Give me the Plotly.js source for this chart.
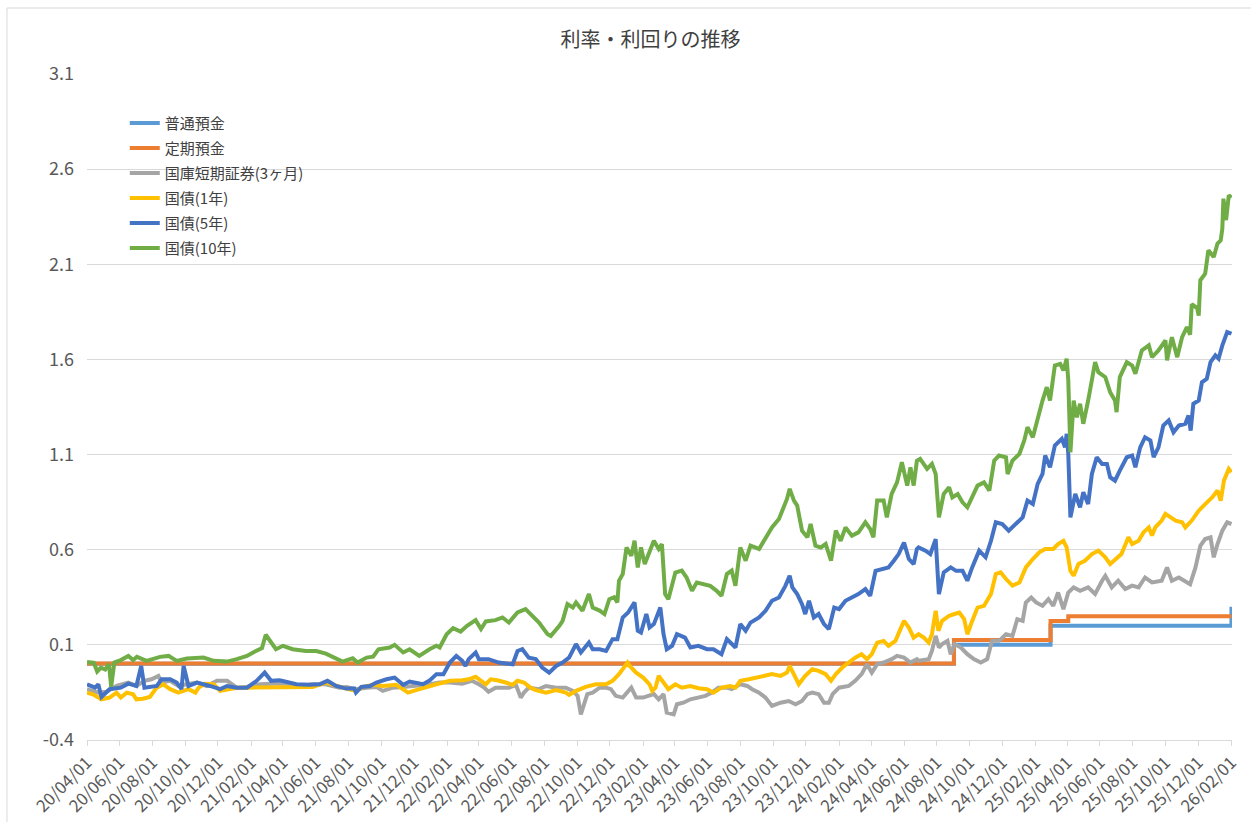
<!DOCTYPE html>
<html>
<head>
<meta charset="utf-8">
<script src="https://cdn.plot.ly/plotly-3.0.1.min.js"></script>
<style>
html,body{margin:0;padding:0;background:#fff;}
#chart{width:1251px;height:822px;}
</style>
</head>
<body>
<div id="chart"></div>
<script>
// ---- data ----
const chartTitle = '利率・利回りの推移';
const seriesNames = ['普通預金','定期預金','国庫短期証券(3ヶ月)','国債(1年)','国債(5年)','国債(10年)'];
const seriesColors = ['#5B9BD5','#ED7D31','#A5A5A5','#FFC000','#4472C4','#70AD47'];
const yTickVals = [-0.4,0.1,0.6,1.1,1.6,2.1,2.6,3.1];
const yTickLabels = ['-0.4','0.1','0.6','1.1','1.6','2.1','2.6','3.1'];

const ordinaryDates = ['2020-04-01','2024-09-02','2025-03-01','2026-01-31','2026-02-01'];
const ordinaryVals  = [0.001,0.1,0.2,0.2,0.3];

const timeDepDates = ['2020-04-01','2024-09-02','2025-03-01','2025-04-03','2026-02-01'];
const timeDepVals  = [0.002,0.125,0.225,0.25,0.25];

const tb3mDates = ['2020-04-01','2020-04-22','2020-05-07','2020-05-26','2020-06-17','2020-07-02','2020-07-17','2020-07-30','2020-08-12','2020-08-18','2020-09-03','2020-09-18','2020-10-04','2020-10-23','2020-11-10','2020-11-29','2020-12-18',
'2021-01-05','2021-01-24','2021-02-17','2021-03-13','2021-04-07','2021-05-01','2021-05-26','2021-06-20','2021-07-15','2021-07-28','2021-08-15','2021-09-04','2021-09-22','2021-10-04','2021-10-23','2021-11-11','2021-12-05','2021-12-31',
'2022-01-18','2022-02-06','2022-03-01','2022-03-19','2022-04-01','2022-04-11','2022-04-19','2022-05-02','2022-05-27','2022-06-09','2022-06-18','2022-06-24','2022-07-03','2022-07-22','2022-08-04','2022-08-23','2022-09-10','2022-09-23','2022-10-02','2022-10-08','2022-10-14','2022-10-20','2022-10-30','2022-11-12','2022-11-24','2022-12-03','2022-12-12','2022-12-25',
'2023-01-10','2023-01-19','2023-02-01','2023-02-21','2023-03-02','2023-03-11','2023-03-17','2023-03-30','2023-04-05','2023-04-17','2023-04-30','2023-05-15','2023-05-28','2023-06-09','2023-06-21','2023-07-07','2023-07-16','2023-08-01','2023-08-14','2023-08-23','2023-09-05','2023-09-17','2023-09-29','2023-10-15','2023-10-30','2023-11-12','2023-11-24','2023-12-04','2023-12-13','2023-12-25',
'2024-01-04','2024-01-13','2024-01-20','2024-02-01','2024-02-19','2024-03-02','2024-03-14','2024-03-24','2024-04-02','2024-04-12','2024-04-24','2024-05-09','2024-05-19','2024-06-01','2024-06-13','2024-06-25','2024-06-28','2024-07-17','2024-07-23','2024-07-30','2024-08-05','2024-08-11','2024-08-21','2024-08-27','2024-09-03','2024-09-15','2024-09-27','2024-10-09','2024-10-22','2024-11-03','2024-11-12','2024-11-25','2024-12-08','2024-12-20','2024-12-29',
'2025-01-08','2025-01-14','2025-01-24','2025-02-02','2025-02-14','2025-02-25','2025-03-06','2025-03-15','2025-03-25','2025-04-03','2025-04-13','2025-04-25','2025-05-10','2025-05-23','2025-06-05','2025-06-11','2025-06-23','2025-07-05','2025-07-18','2025-07-31','2025-08-12','2025-08-24','2025-09-06','2025-09-24','2025-10-04','2025-10-13','2025-10-26','2025-11-07','2025-11-16','2025-11-26','2025-12-05','2025-12-14','2025-12-24','2025-12-30',
'2026-01-06','2026-01-15','2026-01-24','2026-02-01'];
const tb3mVals = [-0.133,-0.151,-0.147,-0.116,-0.098,-0.116,-0.089,-0.081,-0.063,-0.098,-0.089,-0.116,-0.107,-0.098,-0.116,-0.089,-0.089,
-0.125,-0.121,-0.107,-0.104,-0.104,-0.116,-0.107,-0.107,-0.125,-0.121,-0.133,-0.125,-0.121,-0.142,-0.125,-0.121,-0.116,-0.107,
-0.098,-0.098,-0.104,-0.089,-0.107,-0.125,-0.146,-0.125,-0.125,-0.11,-0.177,-0.151,-0.125,-0.133,-0.116,-0.125,-0.125,-0.142,-0.168,-0.265,-0.212,-0.159,-0.151,-0.125,-0.125,-0.133,-0.168,-0.177,
-0.125,-0.177,-0.177,-0.159,-0.186,-0.159,-0.256,-0.265,-0.212,-0.204,-0.186,-0.177,-0.168,-0.151,-0.125,-0.125,-0.133,-0.107,-0.116,-0.133,-0.151,-0.177,-0.221,-0.204,-0.195,-0.212,-0.195,-0.159,-0.151,-0.159,
-0.204,-0.204,-0.159,-0.125,-0.116,-0.089,-0.054,-0.002,-0.046,-0.002,0.007,0.025,0.042,0.033,0.007,0.025,0.016,0.025,0.068,0.147,0.086,0.104,0.121,0.051,0.104,0.086,0.051,0.025,0.007,0.025,0.121,0.121,0.156,0.147,0.235,
0.226,0.323,0.349,0.323,0.305,0.34,0.305,0.375,0.288,0.375,0.402,0.384,0.402,0.367,0.437,0.463,0.402,0.437,0.393,0.411,0.402,0.454,0.428,0.437,0.507,0.437,0.454,0.437,0.419,0.507,0.621,0.656,0.665,0.56,
0.63,0.7,0.744,0.735];

const jgb1Dates = ['2020-04-01','2020-04-12','2020-04-28','2020-05-13','2020-05-26','2020-06-03','2020-06-14','2020-06-26','2020-07-02','2020-07-14','2020-07-27','2020-08-09','2020-08-21','2020-09-03','2020-09-18','2020-09-27','2020-10-07','2020-10-20','2020-10-26','2020-11-07','2020-11-23','2020-12-05','2020-12-18',
'2021-01-05','2021-01-24','2021-02-17','2021-03-13','2021-04-07','2021-05-01','2021-05-26','2021-06-20','2021-07-09','2021-07-28','2021-08-15','2021-08-28','2021-09-16','2021-10-04','2021-10-29','2021-11-11','2021-11-20','2021-12-05','2021-12-24',
'2022-01-12','2022-01-25','2022-02-06','2022-03-01','2022-03-13','2022-03-26','2022-04-05','2022-04-14','2022-04-23','2022-05-05','2022-05-21','2022-06-03','2022-06-12','2022-06-24','2022-07-06','2022-07-16','2022-08-04','2022-08-23','2022-09-10','2022-09-16','2022-09-29','2022-10-17','2022-11-05','2022-11-24','2022-12-06','2022-12-15','2022-12-18',
'2023-01-03','2023-01-07','2023-01-19','2023-02-01','2023-02-13','2023-02-18','2023-02-24','2023-03-02','2023-03-11','2023-03-20','2023-04-02','2023-04-14','2023-04-30','2023-05-15','2023-05-31','2023-06-12','2023-06-27','2023-07-13','2023-07-23','2023-08-01','2023-08-17','2023-09-02','2023-09-17','2023-09-29','2023-10-15','2023-10-27','2023-11-01','2023-11-09','2023-11-18','2023-11-30','2023-12-13','2023-12-25',
'2024-01-07','2024-01-17','2024-01-26','2024-02-07','2024-02-19','2024-03-02','2024-03-14','2024-03-24','2024-04-02','2024-04-12','2024-04-24','2024-05-03','2024-05-16','2024-05-25','2024-06-01','2024-06-10','2024-06-19','2024-06-28','2024-07-08','2024-07-17','2024-07-23','2024-07-30','2024-08-04','2024-08-11','2024-08-24','2024-09-03','2024-09-12','2024-09-21','2024-09-27','2024-10-06','2024-10-16','2024-10-28','2024-11-10','2024-11-19','2024-11-28','2024-12-08','2024-12-20',
'2025-01-02','2025-01-14','2025-01-27','2025-02-08','2025-02-19','2025-03-06','2025-03-15','2025-03-25','2025-03-31','2025-04-07','2025-04-13','2025-04-22','2025-05-04','2025-05-17','2025-05-29','2025-06-11','2025-06-20','2025-07-02','2025-07-11','2025-07-24','2025-07-31','2025-08-12','2025-08-21','2025-08-31','2025-09-06','2025-09-12','2025-09-24','2025-10-01','2025-10-10','2025-10-20','2025-11-01','2025-11-07','2025-11-19','2025-12-02','2025-12-14','2025-12-27',
'2026-01-06','2026-01-12','2026-01-18','2026-01-27','2026-02-01'];
const jgb1Vals = [-0.151,-0.16,-0.186,-0.177,-0.151,-0.177,-0.151,-0.16,-0.186,-0.183,-0.174,-0.125,-0.107,-0.133,-0.151,-0.142,-0.133,-0.151,-0.125,-0.104,-0.107,-0.142,-0.133,
-0.125,-0.125,-0.125,-0.125,-0.121,-0.125,-0.121,-0.098,-0.116,-0.13,-0.142,-0.121,-0.11,-0.116,-0.11,-0.133,-0.151,-0.138,-0.121,
-0.107,-0.098,-0.089,-0.086,-0.081,-0.068,-0.089,-0.107,-0.081,-0.086,-0.098,-0.11,-0.089,-0.098,-0.125,-0.138,-0.151,-0.138,-0.151,-0.163,-0.142,-0.121,-0.107,-0.107,-0.089,-0.063,-0.054,
0.007,-0.011,-0.046,-0.072,-0.107,-0.142,-0.125,-0.063,-0.098,-0.133,-0.107,-0.125,-0.116,-0.128,-0.133,-0.151,-0.125,-0.116,-0.125,-0.089,-0.081,-0.072,-0.063,-0.054,-0.063,-0.046,-0.011,-0.054,-0.107,-0.063,-0.028,-0.037,
-0.054,-0.089,-0.054,-0.019,0.007,0.033,0.051,0.025,0.051,0.112,0.121,0.095,0.121,0.174,0.226,0.191,0.138,0.156,0.138,0.112,0.156,0.279,0.174,0.226,0.253,0.262,0.27,0.235,0.156,0.226,0.296,0.305,0.367,0.472,0.481,0.446,0.411,
0.428,0.507,0.551,0.586,0.604,0.604,0.63,0.647,0.612,0.489,0.463,0.525,0.542,0.577,0.595,0.56,0.525,0.551,0.577,0.665,0.63,0.647,0.691,0.717,0.674,0.717,0.753,0.788,0.77,0.753,0.744,0.717,0.753,0.805,0.84,0.875,
0.911,0.858,0.963,1.025,1.007];

const jgb5Dates = ['2020-04-01','2020-04-16','2020-04-22','2020-04-28','2020-05-13','2020-06-03','2020-06-17','2020-07-02','2020-07-11','2020-07-17','2020-08-09','2020-08-18','2020-09-03','2020-09-15','2020-09-24','2020-09-28','2020-10-07','2020-10-23','2020-11-16','2020-12-05','2020-12-18',
'2021-01-05','2021-01-24','2021-02-11','2021-02-26','2021-03-10','2021-03-26','2021-04-07','2021-04-26','2021-05-20','2021-06-08','2021-06-23','2021-07-09','2021-07-28','2021-08-12','2021-08-15','2021-08-25','2021-09-10','2021-09-22','2021-10-11','2021-10-26','2021-11-11','2021-11-23','2021-12-18','2021-12-31',
'2022-01-12','2022-01-25','2022-02-06','2022-02-18','2022-03-01','2022-03-07','2022-03-13','2022-03-26','2022-04-01','2022-04-19','2022-05-08','2022-06-03','2022-06-12','2022-06-21','2022-07-03','2022-07-16','2022-07-28','2022-08-10','2022-08-23','2022-09-04','2022-09-16','2022-09-29','2022-10-08','2022-10-23','2022-10-30','2022-11-12','2022-11-24','2022-12-06','2022-12-15','2022-12-25',
'2023-01-04','2023-01-13','2023-01-16','2023-01-22','2023-01-28','2023-02-07','2023-02-13','2023-02-21','2023-03-05','2023-03-11','2023-03-17','2023-03-27','2023-04-05','2023-04-20','2023-04-30','2023-05-15','2023-05-31','2023-06-12','2023-06-27','2023-07-07','2023-07-16','2023-07-23','2023-08-01','2023-08-11','2023-08-20','2023-09-05','2023-09-17','2023-09-29','2023-10-12','2023-10-24','2023-11-01','2023-11-06','2023-11-15','2023-11-24','2023-11-30','2023-12-07','2023-12-16','2023-12-25',
'2024-01-04','2024-01-13','2024-01-23','2024-02-01','2024-02-13','2024-02-25','2024-03-08','2024-03-21','2024-03-30','2024-04-09','2024-04-21','2024-05-03','2024-05-13','2024-05-22','2024-06-01','2024-06-10','2024-06-19','2024-06-25','2024-06-28','2024-07-11','2024-07-20','2024-07-30','2024-08-05','2024-08-14','2024-08-27','2024-09-06','2024-09-18','2024-09-27','2024-10-06','2024-10-19','2024-10-31','2024-11-10','2024-11-19','2024-12-01','2024-12-13','2024-12-26',
'2025-01-08','2025-01-17','2025-01-27','2025-02-05','2025-02-14','2025-02-19','2025-02-28','2025-03-09','2025-03-22','2025-03-28','2025-03-31','2025-04-03','2025-04-07','2025-04-16','2025-04-25','2025-05-01','2025-05-10','2025-05-17','2025-05-26','2025-06-05','2025-06-14','2025-06-20','2025-06-29','2025-07-08','2025-07-21','2025-07-31','2025-08-06','2025-08-15','2025-08-24','2025-09-03','2025-09-09','2025-09-18','2025-09-27','2025-10-07','2025-10-16','2025-10-26','2025-11-07','2025-11-13','2025-11-17','2025-11-22','2025-12-02','2025-12-08','2025-12-17','2025-12-24',
'2026-01-02','2026-01-08','2026-01-15','2026-01-24','2026-02-01'];
const jgb5Vals = [-0.107,-0.125,-0.107,-0.174,-0.133,-0.125,-0.104,-0.116,-0.011,-0.125,-0.116,-0.081,-0.081,-0.098,-0.133,-0.011,-0.116,-0.098,-0.116,-0.133,-0.116,
-0.125,-0.125,-0.089,-0.046,-0.089,-0.086,-0.093,-0.107,-0.11,-0.107,-0.089,-0.116,-0.13,-0.13,-0.151,-0.121,-0.116,-0.098,-0.081,-0.072,-0.11,-0.093,-0.107,-0.086,
-0.054,-0.054,0.007,0.042,0.016,-0.011,0.025,0.06,0.025,0.025,0.007,-0.002,0.068,0.077,0.033,0.025,-0.019,-0.046,-0.011,0.007,0.033,0.104,0.06,0.112,0.077,0.077,0.068,0.13,0.13,0.244,
0.27,0.314,0.323,0.174,0.165,0.262,0.191,0.209,0.296,0.156,0.077,0.095,0.156,0.138,0.086,0.095,0.077,0.077,0.051,0.13,0.104,0.086,0.209,0.174,0.217,0.244,0.279,0.332,0.349,0.41,0.463,0.402,0.367,0.314,0.262,0.332,0.244,0.262,
0.209,0.183,0.296,0.288,0.332,0.349,0.367,0.393,0.358,0.489,0.498,0.507,0.542,0.577,0.638,0.551,0.525,0.604,0.612,0.595,0.577,0.656,0.367,0.481,0.507,0.489,0.489,0.437,0.507,0.595,0.56,0.647,0.744,0.735,0.7,0.735,
0.77,0.858,0.84,0.946,0.998,1.095,1.033,1.147,1.183,1.138,1.209,1.104,0.77,0.893,0.823,0.902,0.84,0.998,1.086,1.051,1.051,0.981,0.963,1.016,1.086,1.095,1.033,1.138,1.191,1.174,1.086,1.138,1.253,1.279,1.217,1.253,1.262,1.305,1.226,1.367,1.384,1.48,1.498,1.586,
1.621,1.604,1.674,1.744,1.735];

const jgb10Dates = ['2020-04-01','2020-04-14','2020-04-20','2020-04-27','2020-05-05','2020-05-12','2020-05-16','2020-05-22','2020-06-03','2020-06-17','2020-06-26','2020-07-03','2020-07-21','2020-08-15','2020-08-31','2020-09-15','2020-10-04','2020-11-04','2020-11-23','2020-12-18',
'2021-01-05','2021-01-24','2021-02-06','2021-02-21','2021-02-28','2021-03-19','2021-04-01','2021-04-19','2021-05-14','2021-06-02','2021-06-20','2021-07-09','2021-07-21','2021-08-09','2021-08-18','2021-09-04','2021-09-16','2021-09-26','2021-10-17','2021-10-26','2021-11-11','2021-11-23','2021-12-11','2021-12-30',
'2022-01-12','2022-01-18','2022-01-31','2022-02-12','2022-02-26','2022-03-10','2022-03-26','2022-04-05','2022-04-14','2022-05-02','2022-05-15','2022-05-27','2022-06-12','2022-06-27','2022-07-09','2022-07-22','2022-08-07','2022-08-13','2022-08-29','2022-09-04','2022-09-13','2022-09-23','2022-09-29','2022-10-11','2022-10-23','2022-10-30','2022-11-12','2022-11-21','2022-11-30','2022-12-09','2022-12-15','2022-12-18','2022-12-25',
'2023-01-01','2023-01-10','2023-01-16','2023-01-22','2023-01-28','2023-02-04','2023-02-15','2023-02-21','2023-03-02','2023-03-08','2023-03-14','2023-03-20','2023-04-02','2023-04-14','2023-04-23','2023-05-03','2023-05-12','2023-05-21','2023-06-06','2023-06-18','2023-06-27','2023-07-07','2023-07-16','2023-07-23','2023-08-01','2023-08-11','2023-08-20','2023-09-05','2023-09-17','2023-09-29','2023-10-12','2023-10-21','2023-10-27','2023-11-01','2023-11-09','2023-11-15','2023-11-24','2023-12-04','2023-12-10','2023-12-19','2023-12-29',
'2024-01-07','2024-01-17','2024-01-26','2024-02-04','2024-02-13','2024-02-25','2024-03-08','2024-03-21','2024-03-30','2024-04-05','2024-04-12','2024-04-24','2024-04-30','2024-05-09','2024-05-19','2024-05-28','2024-06-07','2024-06-13','2024-06-19','2024-06-25','2024-07-01','2024-07-14','2024-07-23','2024-07-30','2024-08-05','2024-08-14','2024-08-24','2024-08-30','2024-09-09','2024-09-18','2024-09-27','2024-10-06','2024-10-16','2024-10-28','2024-11-07','2024-11-16','2024-11-25','2024-12-08','2024-12-11','2024-12-20',
'2025-01-02','2025-01-11','2025-01-17','2025-01-27','2025-02-05','2025-02-14','2025-02-22','2025-02-28','2025-03-09','2025-03-19','2025-03-25','2025-03-31','2025-04-03','2025-04-07','2025-04-13','2025-04-19','2025-04-25','2025-05-01','2025-05-10','2025-05-17','2025-05-23','2025-05-29','2025-06-11','2025-06-20','2025-06-29','2025-07-02','2025-07-08','2025-07-21','2025-07-31','2025-08-06','2025-08-18','2025-08-31','2025-09-06','2025-09-18','2025-10-01','2025-10-04','2025-10-13','2025-10-23','2025-11-01','2025-11-10','2025-11-16','2025-11-19','2025-11-29','2025-12-02','2025-12-05','2025-12-14','2025-12-20','2025-12-30',
'2026-01-06','2026-01-12','2026-01-15','2026-01-17','2026-01-22','2026-01-27','2026-02-01'];
const jgb10Vals = [0.01,0.005,-0.04,-0.02,-0.03,0.0,-0.12,0.007,0.02,0.042,0.02,0.037,0.016,0.037,0.042,0.016,0.028,0.033,0.016,0.012,
0.025,0.042,0.063,0.083,0.153,0.077,0.095,0.077,0.068,0.068,0.054,0.028,0.012,0.03,0.007,0.033,0.038,0.077,0.086,0.1,0.06,0.077,0.042,0.077,
0.095,0.086,0.156,0.188,0.17,0.2,0.23,0.183,0.223,0.23,0.244,0.217,0.27,0.288,0.253,0.217,0.156,0.147,0.2,0.226,0.314,0.296,0.323,0.279,0.367,0.296,0.28,0.262,0.34,0.35,0.323,0.437,0.472,
0.612,0.568,0.647,0.507,0.612,0.525,0.612,0.647,0.604,0.63,0.367,0.34,0.48,0.49,0.454,0.384,0.428,0.42,0.41,0.384,0.358,0.472,0.49,0.41,0.612,0.542,0.621,0.604,0.665,0.717,0.761,0.823,0.867,0.92,0.858,0.832,0.7,0.665,0.735,0.621,0.612,
0.63,0.542,0.7,0.647,0.717,0.674,0.691,0.744,0.709,0.665,0.858,0.858,0.77,0.893,0.954,1.06,0.937,1.033,0.937,1.068,1.077,1.025,1.051,0.998,0.77,0.893,0.928,0.875,0.893,0.849,0.823,0.875,0.937,0.954,0.911,1.068,1.095,1.086,0.998,1.068,
1.104,1.174,1.244,1.191,1.296,1.384,1.454,1.384,1.568,1.577,1.542,1.604,1.49,1.112,1.384,1.296,1.367,1.262,1.384,1.507,1.586,1.533,1.507,1.428,1.384,1.323,1.507,1.586,1.568,1.525,1.647,1.674,1.612,1.647,1.7,1.595,1.717,1.612,1.717,1.77,1.73,1.89,1.87,1.83,2.016,2.05,2.174,2.138,
2.209,2.226,2.288,2.445,2.332,2.463,2.45];

// ---- chart ----
const FONT = '"Noto Sans CJK JP", "Noto Sans", sans-serif';
const xs = [ordinaryDates, timeDepDates, tb3mDates, jgb1Dates, jgb5Dates, jgb10Dates];
const ys = [ordinaryVals, timeDepVals, tb3mVals, jgb1Vals, jgb5Vals, jgb10Vals];

const traces = seriesNames.map((name, i) => ({
  type: 'scatter',
  mode: 'lines',
  name: name,
  legendgroup: 'g' + i,
  x: xs[i],
  y: ys[i],
  line: {color: seriesColors[i], width: 4, shape: i < 2 ? 'hv' : 'linear'},
  hoverinfo: 'skip'
}));

const layout = {
  width: 1251,
  height: 822,
  paper_bgcolor: '#ffffff',
  plot_bgcolor: '#ffffff',
  margin: {l: 87, r: 19, t: 74, b: 82, pad: 0},
  font: {family: FONT, color: '#595959'},
  title: {
    text: chartTitle,
    font: {family: FONT, size: 20, color: '#404040'},
    x: 0.52, xref: 'container', xanchor: 'center',
    y: 0.951, yref: 'container', yanchor: 'middle'
  },
  showlegend: true,
  legend: {
    x: 0.033, y: 0.951, xanchor: 'left', yanchor: 'top',
    bgcolor: 'rgba(0,0,0,0)',
    font: {family: FONT, size: 15, color: '#404040'},
    traceorder: 'grouped',
    tracegroupgap: 2.5
  },
  xaxis: {
    type: 'date',
    range: ['2020-04-01', '2026-02-02'],
    tick0: '2020-04-01',
    dtick: 'M2',
    tickformat: '%y/%m/%d',
    tickangle: -45,
    ticks: 'outside',
    ticklen: 5,
    tickcolor: '#d9d9d9',
    showline: true,
    linecolor: '#d9d9d9',
    linewidth: 1,
    showgrid: false,
    zeroline: false,
    tickfont: {family: FONT, size: 17, color: '#595959'}
  },
  yaxis: {
    range: [-0.4, 3.1],
    tickvals: yTickVals,
    ticktext: yTickLabels,
    showgrid: true,
    gridcolor: '#d9d9d9',
    gridwidth: 1,
    zeroline: false,
    showline: false,
    ticks: '',
    ticklabelstandoff: 12,
    tickfont: {family: FONT, size: 18, color: '#595959'}
  },
  shapes: [{
    type: 'rect', xref: 'paper', yref: 'paper',
    x0: -0.0699, x1: 1.0245, y0: -0.135, y1: 1.0991,
    line: {color: '#d9d9d9', width: 1}, fillcolor: 'rgba(0,0,0,0)', layer: 'below'
  }]
};

Plotly.newPlot('chart', traces, layout, {displayModeBar: false, staticPlot: true});
</script>
</body>
</html>
